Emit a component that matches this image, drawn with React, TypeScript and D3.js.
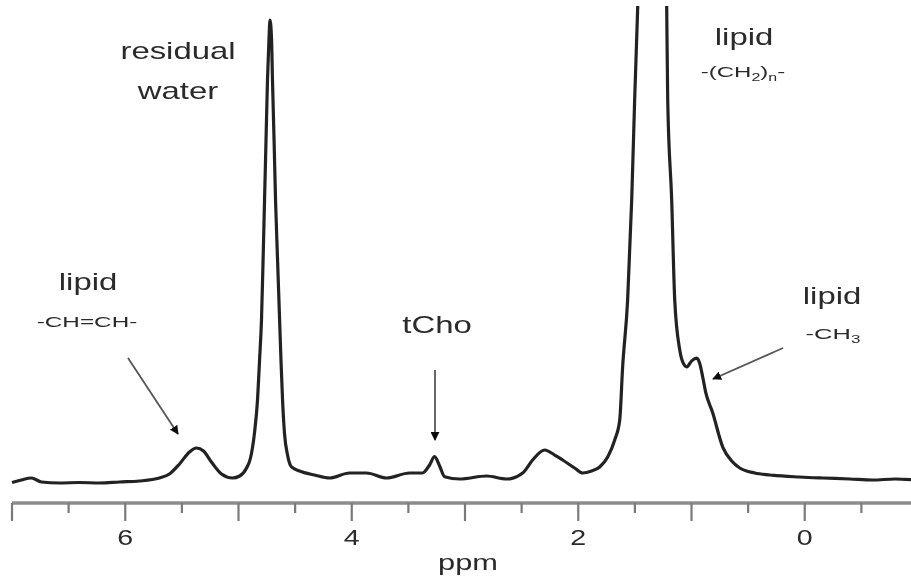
import React from "react";
import * as d3 from "d3";

// chemical shift (ppm)
const ppmValues = [
  7.0, 6.917, 6.829, 6.74, 6.581, 6.405, 6.226, 6.051, 5.875, 5.698, 5.61, 5.521, 5.433, 5.371, 5.309, 5.239,
  5.15, 5.053, 4.99, 4.929, 4.894, 4.859, 4.832, 4.814, 4.797, 4.783, 4.77, 4.757, 4.744, 4.731, 4.722,
  4.708, 4.7, 4.686, 4.673, 4.655, 4.637, 4.625, 4.611, 4.594, 4.567, 4.532, 4.461, 4.329, 4.196, 4.019,
  3.869, 3.693, 3.49, 3.375, 3.313, 3.269, 3.224, 3.18, 3.048, 2.809, 2.633, 2.491, 2.403, 2.297, 2.208,
  2.138, 2.032, 1.961, 1.882, 1.811, 1.74, 1.678, 1.634, 1.608, 1.564, 1.528, 1.502, 1.475, 1.413, 1.352,
  1.29, 1.219, 1.21, 1.175, 1.148, 1.104, 1.069, 1.042, 0.998, 0.954, 0.928, 0.901, 0.875, 0.813, 0.724,
  0.645, 0.574, 0.442, 0.309, 0.044, -0.159, -0.398, -0.601, -0.795, -0.998,
];
// signal intensity (arbitrary units, water peak = 100)
const intensityValues = [
  -0.54, 0, 0.43, -0.43, -0.65, -0.54, -0.65, -0.43, -0.22, 0.43, 1.3, 3.48, 6.09, 6.96, 6.3, 3.91,
  1.3, 0.43, 0.87, 2.61, 4.78, 10.2, 17.4, 26.1, 34.8, 47.8, 60.9, 73.9, 87.0, 95.7, 100,
  95.7, 87.0, 73.9, 60.9, 47.8, 34.8, 26.1, 17.4, 10.2, 5.43, 2.83, 1.96, 1.09, 0.43, 1.52,
  1.52, 0.43, 1.52, 1.52, 3.26, 5.07, 3.04, 0.72, 0.22, 0.87, 0.22, 1.52, 4.35, 6.52, 5.43,
  4.35, 2.61, 1.52, 1.96, 2.83, 5.0, 8.7, 13.0, 24.6, 39.1, 60.9, 82.6, 102.8, 169.6, 200,
  169.6, 102.8, 82.6, 60.9, 39.1, 28.3, 25.2, 24.6, 25.9, 26.5, 25.4, 22.4, 19.1, 14.6, 7.17,
  4.13, 2.61, 1.52, 1.09, 0.65, 0.43, 0.22, 0, 0.22, 0,
];

const majorTicks = [7, 6, 5, 4, 3, 2, 1, 0, -1];
const minorTicks = [6.5, 5.5, 4.5, 3.5, 2.5, 1.5, 0.5, -0.5];
const tickLabels = [6, 4, 2, 0];
const axisTitle = "ppm";

const W = 911;
const H = 583;

export default function App() {
  const x = d3.scaleLinear().domain([7, -1]).range([12, 918]);
  const y = d3.scaleLinear().domain([0, 100]).range([480, 20]);
  const data = ppmValues.map((p, i) => [p, intensityValues[i]] as [number, number]);
  const line = d3
    .line<[number, number]>()
    .x((d) => x(d[0]))
    .y((d) => y(d[1]))
    .curve(d3.curveMonotoneX);

  const axisY = 503;
  const font = "Arial, 'Liberation Sans', Helvetica, sans-serif";
  const ink = "#2a2a2a";

  const label = (
    txt: React.ReactNode,
    cx: number,
    baseline: number,
    size: number,
    sx: number,
    key: string
  ) => (
    <g key={key} transform={`translate(${cx},${baseline}) scale(${sx},1)`}>
      <text textAnchor="middle" fontSize={size} fontFamily={font} fill={ink}>
        {txt}
      </text>
    </g>
  );

  const arrow = (x1: number, y1: number, x2: number, y2: number, key: string) => (
    <line
      key={key}
      x1={x1}
      y1={y1}
      x2={x2}
      y2={y2}
      stroke="#555"
      strokeWidth={1.8}
      markerEnd="url(#ah)"
    />
  );

  return (
    <svg
      width={W}
      height={H}
      viewBox={`0 0 ${W} ${H}`}
      style={{ position: "absolute", left: 0, top: 0, background: "#fff" }}
    >
      <defs>
        <clipPath id="plot">
          <rect x={0} y={6} width={W} height={axisY - 8} />
        </clipPath>
        <filter id="soft" x="-5%" y="-5%" width="110%" height="110%">
          <feGaussianBlur stdDeviation={0.6} />
        </filter>
        <marker
          id="ah"
          viewBox="0 0 10 10"
          refX={9}
          refY={5}
          markerWidth={5}
          markerHeight={5}
          orient="auto"
          markerUnits="strokeWidth"
        >
          <path d="M0,0 L10,5 L0,10 Z" fill="#111" />
        </marker>
      </defs>
      <rect width={W} height={H} fill="#fff" />

      <g filter="url(#soft)">
        {/* spectrum */}
        <path
          d={line(data) || ""}
          fill="none"
          stroke="#222"
          strokeWidth={3.2}
          strokeLinejoin="round"
          clipPath="url(#plot)"
        />

        {/* axis */}
        <line x1={x(7)} x2={W} y1={axisY} y2={axisY} stroke="#8c8c8c" strokeWidth={3.5} />
        {majorTicks.map((t) => (
          <line key={"M" + t} x1={x(t)} x2={x(t)} y1={axisY} y2={axisY + 18} stroke="#7a7a7a" strokeWidth={2.2} />
        ))}
        {minorTicks.map((t) => (
          <line key={"m" + t} x1={x(t)} x2={x(t)} y1={axisY} y2={axisY + 10} stroke="#7a7a7a" strokeWidth={2.2} />
        ))}
        {tickLabels.map((t) => label(String(t), x(t), 545, 22, 1.3, "t" + t))}
        {label(axisTitle, 468, 570, 22, 1.4, "title")}

        {/* annotations */}
        {label("residual", 178, 59, 24, 1.37, "a1")}
        {label("water", 178, 99, 24, 1.37, "a2")}

        {label("lipid", 88, 290, 24, 1.37, "a3")}
        {label("-CH=CH-", 87, 327, 15, 1.62, "a4")}
        {arrow(128, 358, 178, 434, "ar1")}

        {label("tCho", 437, 333, 24, 1.37, "a5")}
        {arrow(435, 370, 435, 440, "ar2")}

        {label("lipid", 744, 45, 24, 1.37, "a6")}
        {label(
          <>
            -(CH
            <tspan fontSize={10} dy={4}>2</tspan>
            <tspan dy={-4}>)</tspan>
            <tspan fontSize={10} dy={4}>n</tspan>
            <tspan dy={-4}>-</tspan>
          </>,
          743,
          77,
          15,
          1.6,
          "a7"
        )}

        {label("lipid", 832, 304, 24, 1.37, "a8")}
        {label(
          <>
            -CH
            <tspan fontSize={10} dy={4}>3</tspan>
          </>,
          833,
          339,
          15,
          1.7,
          "a9"
        )}
        {arrow(783, 348, 713, 379, "ar3")}
      </g>
    </svg>
  );
}
